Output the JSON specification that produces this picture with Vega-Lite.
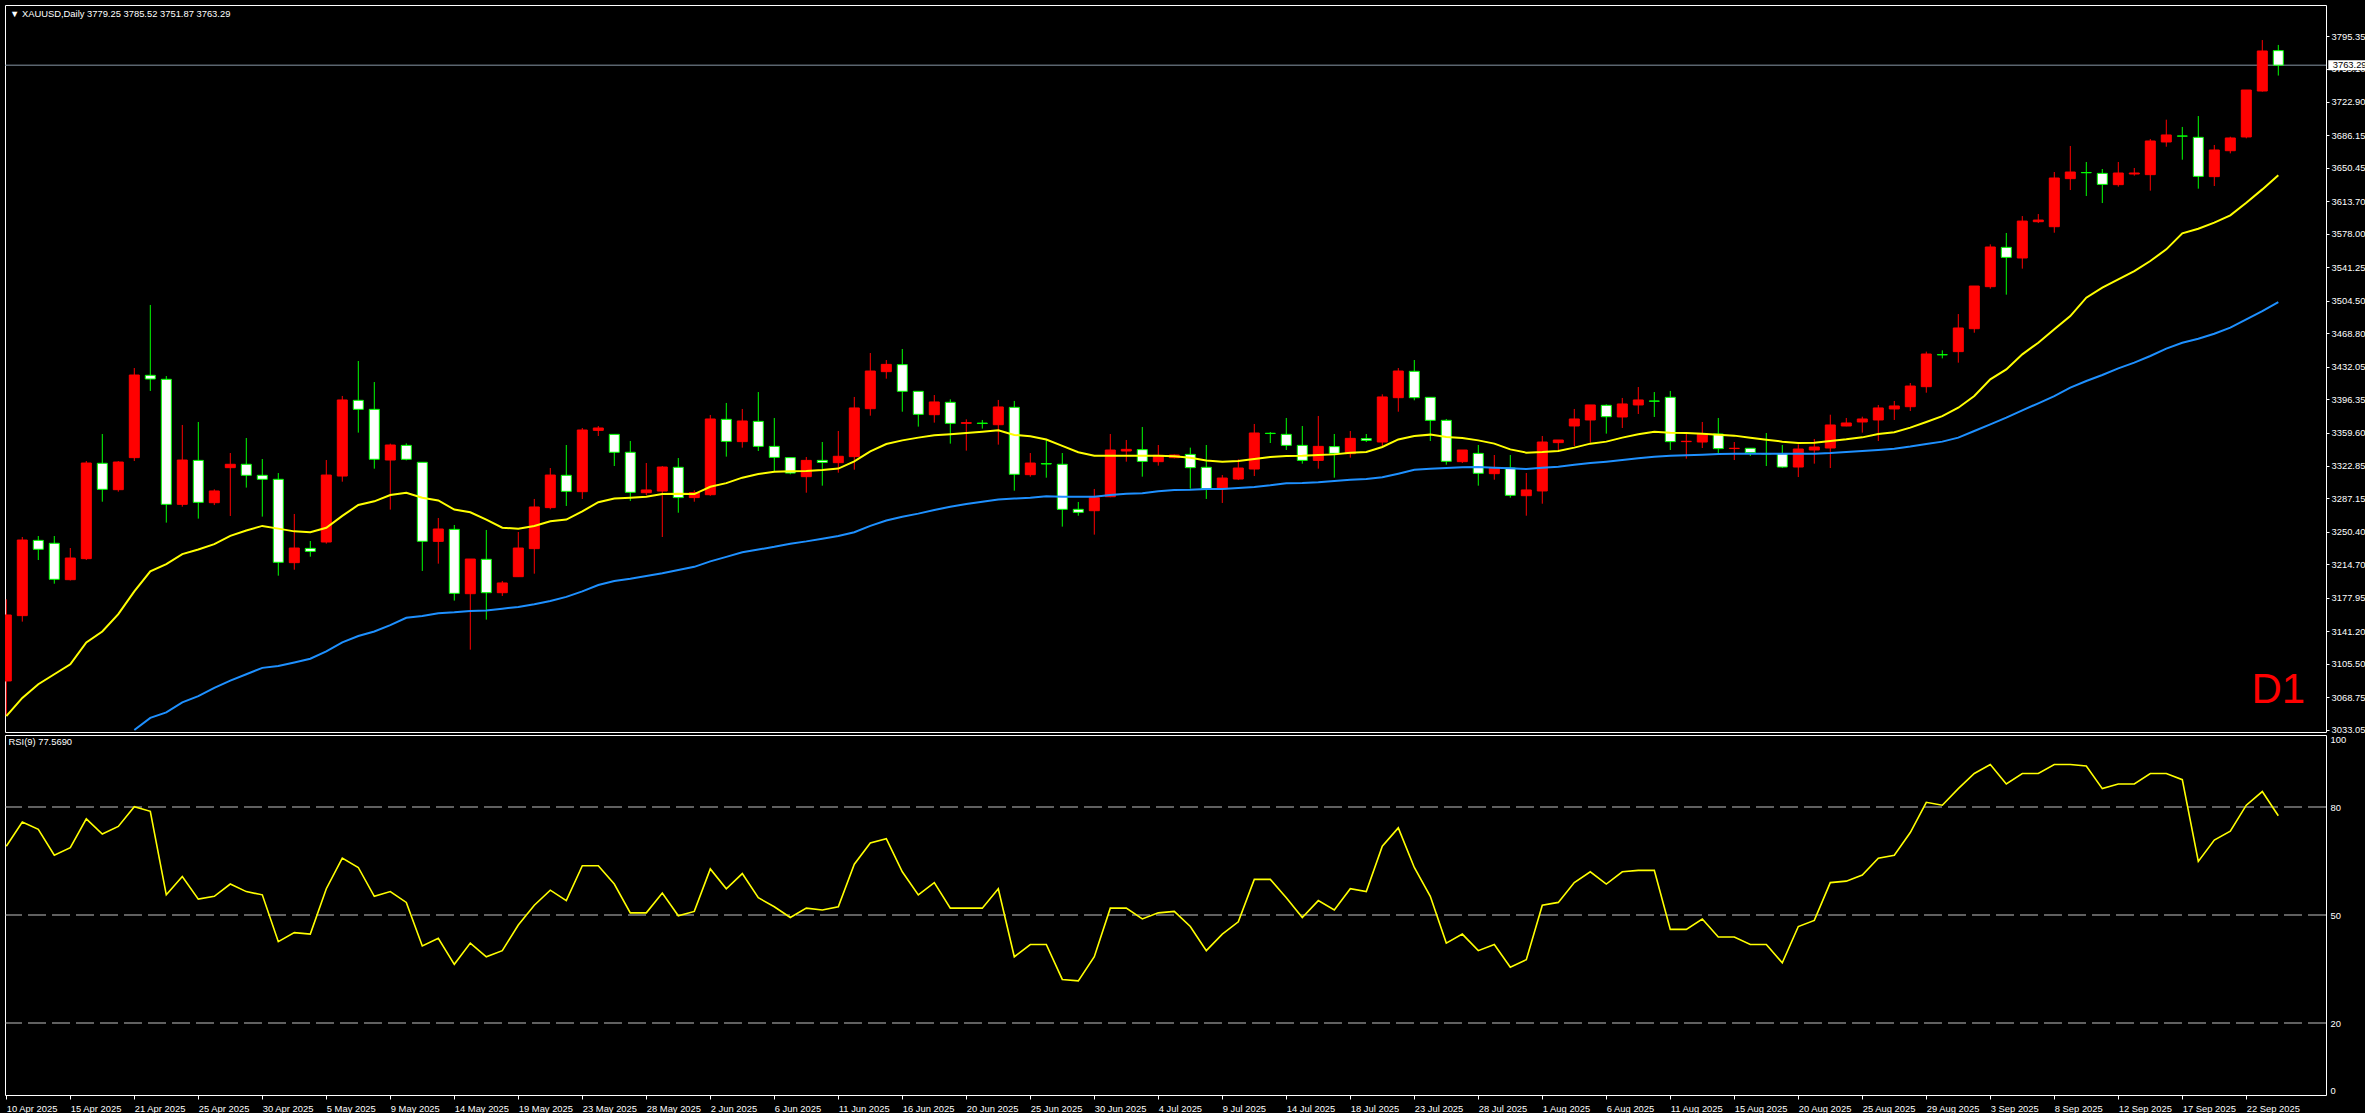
{
"$schema": "https://vega.github.io/schema/vega-lite/v6.json",
"background": "#000000",
"padding": {"left": 4, "top": 4, "right": 0, "bottom": 0},
"bounds": "flush",
"spacing": 3,
"config": {
  "view": {"stroke": "#ffffff", "strokeWidth": 1, "fill": "#000000"},
  "axis": {"labelColor": "#ffffff", "tickColor": "#ffffff", "labelFont": "Liberation Sans", "labelFontSize": 9.4, "domain": false, "grid": false, "labelOverlap": false, "labelBound": false, "labelFlush": false}
},
"data": {"values": [
{"date":"2025-04-10","open":3086.6,"high":3176.3,"low":3048.1,"close":3159.1,"maFast":3048,"maSlow":null,"rsi":69.1},
{"date":"2025-04-11","open":3158.4,"high":3244.8,"low":3151.8,"close":3241.5,"maFast":3068,"maSlow":null,"rsi":75.8},
{"date":"2025-04-13","open":3241.1,"high":3245.9,"low":3219.5,"close":3231.3,"maFast":3083,"maSlow":null,"rsi":73.8},
{"date":"2025-04-14","open":3237.9,"high":3245.9,"low":3193.5,"close":3198.3,"maFast":3094,"maSlow":null,"rsi":66.6},
{"date":"2025-04-15","open":3197.9,"high":3232.7,"low":3197.0,"close":3221.7,"maFast":3105,"maSlow":null,"rsi":68.7},
{"date":"2025-04-16","open":3221.0,"high":3328.3,"low":3219.5,"close":3326.1,"maFast":3129,"maSlow":null,"rsi":76.7},
{"date":"2025-04-17","open":3325.8,"high":3358.0,"low":3283.6,"close":3297.2,"maFast":3141,"maSlow":null,"rsi":72.5},
{"date":"2025-04-20","open":3296.8,"high":3328.3,"low":3294.6,"close":3327.2,"maFast":3160,"maSlow":null,"rsi":74.6},
{"date":"2025-04-21","open":3332.0,"high":3430.5,"low":3328.3,"close":3422.8,"maFast":3185,"maSlow":3032.7,"rsi":80.1},
{"date":"2025-04-22","open":3422.5,"high":3499.8,"low":3405.3,"close":3418.4,"maFast":3207,"maSlow":3046,"rsi":78.8},
{"date":"2025-04-23","open":3418.1,"high":3421.7,"low":3260.6,"close":3280.7,"maFast":3215,"maSlow":3052,"rsi":55.6},
{"date":"2025-04-24","open":3280.7,"high":3367.9,"low":3278.1,"close":3329.4,"maFast":3226,"maSlow":3063,"rsi":60.7},
{"date":"2025-04-25","open":3329.0,"high":3371.2,"low":3265.0,"close":3282.9,"maFast":3231,"maSlow":3070,"rsi":54.4},
{"date":"2025-04-27","open":3282.5,"high":3297.2,"low":3279.9,"close":3295.4,"maFast":3237,"maSlow":3079,"rsi":55.2},
{"date":"2025-04-28","open":3321.0,"high":3337.1,"low":3267.9,"close":3324.7,"maFast":3246,"maSlow":3087,"rsi":58.6},
{"date":"2025-04-29","open":3324.7,"high":3353.6,"low":3299.1,"close":3312.6,"maFast":3252,"maSlow":3094,"rsi":56.5},
{"date":"2025-04-30","open":3312.6,"high":3330.5,"low":3267.2,"close":3308.2,"maFast":3257,"maSlow":3101,"rsi":55.6},
{"date":"2025-05-01","open":3308.2,"high":3315.1,"low":3202.3,"close":3217.0,"maFast":3254,"maSlow":3103,"rsi":42.6},
{"date":"2025-05-02","open":3216.6,"high":3270.1,"low":3208.9,"close":3232.7,"maFast":3251,"maSlow":3107,"rsi":45.1},
{"date":"2025-05-04","open":3232.3,"high":3240.4,"low":3223.2,"close":3229.0,"maFast":3250,"maSlow":3111,"rsi":44.7},
{"date":"2025-05-05","open":3239.3,"high":3329.4,"low":3237.5,"close":3312.9,"maFast":3255,"maSlow":3119,"rsi":57.3},
{"date":"2025-05-06","open":3311.8,"high":3399.8,"low":3305.6,"close":3395.4,"maFast":3268,"maSlow":3129,"rsi":65.8},
{"date":"2025-05-07","open":3395.0,"high":3438.2,"low":3359.5,"close":3385.1,"maFast":3280,"maSlow":3136,"rsi":63.2},
{"date":"2025-05-08","open":3385.1,"high":3415.1,"low":3319.9,"close":3330.2,"maFast":3284,"maSlow":3141,"rsi":55.2},
{"date":"2025-05-09","open":3329.4,"high":3347.4,"low":3274.9,"close":3345.9,"maFast":3291,"maSlow":3148,"rsi":56.5},
{"date":"2025-05-11","open":3345.5,"high":3347.7,"low":3329.0,"close":3330.2,"maFast":3293.5,"maSlow":3156,"rsi":53.5},
{"date":"2025-05-12","open":3326.9,"high":3327.0,"low":3207.5,"close":3240.1,"maFast":3288,"maSlow":3158,"rsi":41.4},
{"date":"2025-05-13","open":3240.0,"high":3265.7,"low":3215.5,"close":3253.6,"maFast":3285,"maSlow":3161,"rsi":43.5},
{"date":"2025-05-14","open":3253.2,"high":3258.0,"low":3174.9,"close":3182.9,"maFast":3275,"maSlow":3162,"rsi":36.3},
{"date":"2025-05-15","open":3182.5,"high":3220.6,"low":3121.0,"close":3220.6,"maFast":3272,"maSlow":3163.5,"rsi":42.2},
{"date":"2025-05-16","open":3220.3,"high":3252.5,"low":3154.0,"close":3183.6,"maFast":3264,"maSlow":3164,"rsi":38.4},
{"date":"2025-05-18","open":3183.6,"high":3196.5,"low":3180.0,"close":3194.3,"maFast":3255,"maSlow":3166,"rsi":40.1},
{"date":"2025-05-19","open":3201.2,"high":3250.3,"low":3201.0,"close":3232.7,"maFast":3254,"maSlow":3168,"rsi":47.2},
{"date":"2025-05-20","open":3232.0,"high":3286.6,"low":3204.5,"close":3277.8,"maFast":3257,"maSlow":3171,"rsi":52.7},
{"date":"2025-05-21","open":3277.1,"high":3320.6,"low":3275.2,"close":3312.9,"maFast":3262,"maSlow":3174.5,"rsi":56.9},
{"date":"2025-05-22","open":3312.6,"high":3345.9,"low":3278.9,"close":3295.0,"maFast":3264,"maSlow":3179,"rsi":54.0},
{"date":"2025-05-23","open":3294.6,"high":3364.6,"low":3286.6,"close":3362.4,"maFast":3273,"maSlow":3185,"rsi":63.7},
{"date":"2025-05-25","open":3362.0,"high":3366.8,"low":3355.8,"close":3364.6,"maFast":3283,"maSlow":3192,"rsi":63.7},
{"date":"2025-05-26","open":3357.6,"high":3357.6,"low":3322.8,"close":3337.9,"maFast":3287,"maSlow":3196.5,"rsi":58.6},
{"date":"2025-05-27","open":3337.9,"high":3350.3,"low":3284.4,"close":3293.9,"maFast":3288,"maSlow":3199,"rsi":50.6},
{"date":"2025-05-28","open":3293.5,"high":3326.1,"low":3290.9,"close":3296.5,"maFast":3289,"maSlow":3202,"rsi":50.6},
{"date":"2025-05-29","open":3295.3,"high":3322.8,"low":3244.8,"close":3321.7,"maFast":3292,"maSlow":3205,"rsi":56.1},
{"date":"2025-05-30","open":3321.4,"high":3331.6,"low":3271.5,"close":3288.1,"maFast":3292.4,"maSlow":3208.5,"rsi":49.8},
{"date":"2025-06-01","open":3288.1,"high":3296.1,"low":3283.6,"close":3293.5,"maFast":3292,"maSlow":3212,"rsi":51.0},
{"date":"2025-06-02","open":3291.3,"high":3378.9,"low":3290.0,"close":3374.5,"maFast":3300,"maSlow":3218,"rsi":62.8},
{"date":"2025-06-03","open":3374.1,"high":3392.1,"low":3333.1,"close":3349.9,"maFast":3304,"maSlow":3223,"rsi":57.3},
{"date":"2025-06-04","open":3349.6,"high":3385.5,"low":3343.0,"close":3372.3,"maFast":3310,"maSlow":3228,"rsi":61.5},
{"date":"2025-06-05","open":3371.9,"high":3404.1,"low":3339.3,"close":3344.4,"maFast":3314,"maSlow":3231,"rsi":54.8},
{"date":"2025-06-06","open":3344.4,"high":3375.6,"low":3316.6,"close":3332.3,"maFast":3316.5,"maSlow":3234,"rsi":52.3},
{"date":"2025-06-08","open":3332.0,"high":3332.0,"low":3313.7,"close":3315.1,"maFast":3317,"maSlow":3237.5,"rsi":49.3},
{"date":"2025-06-09","open":3311.1,"high":3332.7,"low":3293.5,"close":3329.0,"maFast":3317.3,"maSlow":3240,"rsi":51.9},
{"date":"2025-06-10","open":3329.0,"high":3349.2,"low":3301.2,"close":3326.8,"maFast":3318.4,"maSlow":3243,"rsi":51.4},
{"date":"2025-06-11","open":3326.5,"high":3361.3,"low":3315.5,"close":3333.5,"maFast":3320,"maSlow":3246,"rsi":52.3},
{"date":"2025-06-12","open":3333.1,"high":3398.7,"low":3318.8,"close":3386.6,"maFast":3328,"maSlow":3250,"rsi":64.1},
{"date":"2025-06-13","open":3385.8,"high":3447.0,"low":3378.1,"close":3427.2,"maFast":3339,"maSlow":3257,"rsi":70.0},
{"date":"2025-06-15","open":3426.5,"high":3439.3,"low":3418.8,"close":3434.5,"maFast":3347,"maSlow":3263,"rsi":71.2},
{"date":"2025-06-16","open":3434.2,"high":3451.4,"low":3382.5,"close":3404.9,"maFast":3351,"maSlow":3267,"rsi":62.0},
{"date":"2025-06-17","open":3404.9,"high":3404.9,"low":3366.1,"close":3379.6,"maFast":3354,"maSlow":3270.5,"rsi":55.6},
{"date":"2025-06-18","open":3379.2,"high":3400.8,"low":3370.5,"close":3393.2,"maFast":3356.5,"maSlow":3274.5,"rsi":59.0},
{"date":"2025-06-19","open":3392.8,"high":3396.1,"low":3347.4,"close":3369.7,"maFast":3357.6,"maSlow":3278,"rsi":51.9},
{"date":"2025-06-20","open":3369.7,"high":3374.1,"low":3339.7,"close":3370.5,"maFast":3359,"maSlow":3281,"rsi":51.9},
{"date":"2025-06-22","open":3370.0,"high":3373.4,"low":3363.9,"close":3369.5,"maFast":3360.5,"maSlow":3283.6,"rsi":51.9},
{"date":"2025-06-23","open":3368.2,"high":3395.4,"low":3346.3,"close":3387.7,"maFast":3362,"maSlow":3286,"rsi":57.3},
{"date":"2025-06-24","open":3387.3,"high":3394.3,"low":3295.7,"close":3313.7,"maFast":3357,"maSlow":3287,"rsi":38.4},
{"date":"2025-06-25","open":3313.3,"high":3337.1,"low":3311.1,"close":3326.1,"maFast":3355.4,"maSlow":3288,"rsi":41.8},
{"date":"2025-06-26","open":3325.5,"high":3351.4,"low":3310.0,"close":3325.0,"maFast":3352,"maSlow":3289.5,"rsi":41.8},
{"date":"2025-06-27","open":3324.7,"high":3337.1,"low":3256.2,"close":3275.2,"maFast":3345,"maSlow":3289,"rsi":32.1},
{"date":"2025-06-29","open":3275.2,"high":3283.3,"low":3268.2,"close":3271.9,"maFast":3338,"maSlow":3289,"rsi":31.7},
{"date":"2025-06-30","open":3273.7,"high":3297.6,"low":3247.4,"close":3288.0,"maFast":3334,"maSlow":3289,"rsi":38.4},
{"date":"2025-07-01","open":3289.1,"high":3358.0,"low":3288.5,"close":3340.4,"maFast":3334,"maSlow":3291,"rsi":51.9},
{"date":"2025-07-02","open":3339.3,"high":3351.4,"low":3327.6,"close":3341.1,"maFast":3334,"maSlow":3292.4,"rsi":51.9},
{"date":"2025-07-03","open":3340.8,"high":3365.7,"low":3311.1,"close":3327.9,"maFast":3334,"maSlow":3293,"rsi":48.9},
{"date":"2025-07-04","open":3327.6,"high":3345.9,"low":3323.2,"close":3334.5,"maFast":3334,"maSlow":3295,"rsi":50.6},
{"date":"2025-07-06","open":3332.0,"high":3335.5,"low":3331.2,"close":3334.9,"maFast":3333.5,"maSlow":3296.5,"rsi":51.0},
{"date":"2025-07-07","open":3335.6,"high":3343.0,"low":3297.9,"close":3321.0,"maFast":3332,"maSlow":3296.8,"rsi":46.8},
{"date":"2025-07-08","open":3321.4,"high":3345.9,"low":3286.6,"close":3297.9,"maFast":3329,"maSlow":3297.5,"rsi":40.1},
{"date":"2025-07-09","open":3297.9,"high":3312.9,"low":3282.2,"close":3309.6,"maFast":3327.6,"maSlow":3297.5,"rsi":44.7},
{"date":"2025-07-10","open":3308.5,"high":3330.1,"low":3307.4,"close":3320.6,"maFast":3328.3,"maSlow":3298.7,"rsi":48.1},
{"date":"2025-07-11","open":3319.5,"high":3369.0,"low":3311.8,"close":3359.1,"maFast":3330.5,"maSlow":3299.8,"rsi":59.9},
{"date":"2025-07-13","open":3358.8,"high":3360.2,"low":3348.1,"close":3358.5,"maFast":3332.7,"maSlow":3301.6,"rsi":59.9},
{"date":"2025-07-14","open":3357.6,"high":3375.6,"low":3340.4,"close":3345.5,"maFast":3333.8,"maSlow":3303.8,"rsi":54.8},
{"date":"2025-07-15","open":3345.5,"high":3366.8,"low":3325.4,"close":3329.0,"maFast":3334,"maSlow":3304.1,"rsi":49.3},
{"date":"2025-07-16","open":3329.0,"high":3377.8,"low":3319.9,"close":3344.4,"maFast":3334.9,"maSlow":3304.9,"rsi":54.0},
{"date":"2025-07-17","open":3344.1,"high":3358.0,"low":3310.0,"close":3336.7,"maFast":3335.6,"maSlow":3306.3,"rsi":51.4},
{"date":"2025-07-18","open":3336.4,"high":3361.3,"low":3332.0,"close":3353.2,"maFast":3337.5,"maSlow":3307.8,"rsi":57.3},
{"date":"2025-07-20","open":3352.9,"high":3358.0,"low":3349.2,"close":3351.0,"maFast":3338.2,"maSlow":3308.5,"rsi":56.5},
{"date":"2025-07-21","open":3349.2,"high":3401.6,"low":3344.4,"close":3398.7,"maFast":3343.7,"maSlow":3310.4,"rsi":69.1},
{"date":"2025-07-22","open":3397.9,"high":3430.5,"low":3382.5,"close":3427.2,"maFast":3352,"maSlow":3314.4,"rsi":74.2},
{"date":"2025-07-23","open":3426.9,"high":3439.3,"low":3395.0,"close":3397.9,"maFast":3355.8,"maSlow":3318.8,"rsi":63.2},
{"date":"2025-07-24","open":3398.3,"high":3398.3,"low":3350.3,"close":3373.0,"maFast":3357.3,"maSlow":3319.9,"rsi":55.2},
{"date":"2025-07-25","open":3373.0,"high":3374.5,"low":3324.3,"close":3328.0,"maFast":3354.7,"maSlow":3320.6,"rsi":42.2},
{"date":"2025-07-27","open":3327.6,"high":3340.4,"low":3326.1,"close":3340.4,"maFast":3353.6,"maSlow":3321.4,"rsi":44.7},
{"date":"2025-07-28","open":3336.7,"high":3345.9,"low":3301.2,"close":3314.8,"maFast":3351,"maSlow":3321.7,"rsi":40.1},
{"date":"2025-07-29","open":3314.4,"high":3334.9,"low":3307.8,"close":3320.6,"maFast":3347.4,"maSlow":3321,"rsi":41.8},
{"date":"2025-07-30","open":3320.6,"high":3334.9,"low":3288.0,"close":3290.6,"maFast":3341.1,"maSlow":3320.3,"rsi":35.5},
{"date":"2025-07-31","open":3290.2,"high":3315.1,"low":3268.2,"close":3296.5,"maFast":3337.5,"maSlow":3319.5,"rsi":37.6},
{"date":"2025-08-01","open":3295.4,"high":3355.8,"low":3281.4,"close":3349.2,"maFast":3338.2,"maSlow":3321,"rsi":52.7},
{"date":"2025-08-03","open":3348.5,"high":3351.4,"low":3339.3,"close":3351.4,"maFast":3339.3,"maSlow":3322.1,"rsi":53.5},
{"date":"2025-08-04","open":3366.8,"high":3385.5,"low":3344.8,"close":3374.5,"maFast":3343,"maSlow":3324.3,"rsi":59.0},
{"date":"2025-08-05","open":3373.4,"high":3389.9,"low":3348.5,"close":3389.9,"maFast":3347.4,"maSlow":3326.1,"rsi":62.0},
{"date":"2025-08-06","open":3389.5,"high":3390.6,"low":3358.4,"close":3377.0,"maFast":3349.6,"maSlow":3327.6,"rsi":58.6},
{"date":"2025-08-07","open":3376.7,"high":3397.6,"low":3364.6,"close":3391.0,"maFast":3354,"maSlow":3329.4,"rsi":62.0},
{"date":"2025-08-08","open":3389.9,"high":3409.6,"low":3380.0,"close":3395.4,"maFast":3357.6,"maSlow":3331.3,"rsi":62.4},
{"date":"2025-08-10","open":3394.3,"high":3404.1,"low":3376.7,"close":3394.0,"maFast":3360.5,"maSlow":3333.1,"rsi":62.4},
{"date":"2025-08-11","open":3398.3,"high":3405.3,"low":3340.4,"close":3349.6,"maFast":3359.5,"maSlow":3334.2,"rsi":46.0},
{"date":"2025-08-12","open":3349.6,"high":3358.0,"low":3330.9,"close":3350.0,"maFast":3359,"maSlow":3334.6,"rsi":46.0},
{"date":"2025-08-13","open":3349.2,"high":3371.2,"low":3342.6,"close":3358.4,"maFast":3358.4,"maSlow":3335.3,"rsi":48.9},
{"date":"2025-08-14","open":3358.0,"high":3375.6,"low":3335.6,"close":3341.9,"maFast":3357.3,"maSlow":3336.0,"rsi":43.9},
{"date":"2025-08-15","open":3342.0,"high":3349.2,"low":3329.4,"close":3342.3,"maFast":3356.2,"maSlow":3336.4,"rsi":43.9},
{"date":"2025-08-17","open":3342.3,"high":3342.3,"low":3333.8,"close":3337.5,"maFast":3354,"maSlow":3336.4,"rsi":41.8},
{"date":"2025-08-18","open":3336.4,"high":3359.1,"low":3322.8,"close":3336.2,"maFast":3351.8,"maSlow":3336.4,"rsi":41.8},
{"date":"2025-08-19","open":3336.4,"high":3345.9,"low":3320.6,"close":3321.7,"maFast":3349.6,"maSlow":3336.4,"rsi":36.7},
{"date":"2025-08-20","open":3321.7,"high":3346.6,"low":3310.7,"close":3341.5,"maFast":3348.1,"maSlow":3336.4,"rsi":46.8},
{"date":"2025-08-21","open":3340.4,"high":3352.5,"low":3325.4,"close":3343.7,"maFast":3348.5,"maSlow":3336.4,"rsi":48.5},
{"date":"2025-08-22","open":3342.6,"high":3379.2,"low":3320.6,"close":3367.9,"maFast":3350.3,"maSlow":3337.1,"rsi":59.0},
{"date":"2025-08-24","open":3366.8,"high":3375.6,"low":3366.5,"close":3370.1,"maFast":3352.1,"maSlow":3338.2,"rsi":59.4},
{"date":"2025-08-25","open":3371.2,"high":3377.0,"low":3359.5,"close":3374.5,"maFast":3354.3,"maSlow":3339.3,"rsi":61.1},
{"date":"2025-08-26","open":3373.4,"high":3389.9,"low":3350.3,"close":3386.6,"maFast":3358,"maSlow":3340.4,"rsi":65.8},
{"date":"2025-08-27","open":3385.5,"high":3394.3,"low":3373.4,"close":3388.8,"maFast":3360,"maSlow":3341.8,"rsi":66.6},
{"date":"2025-08-28","open":3388.0,"high":3414.0,"low":3383.3,"close":3410.7,"maFast":3365,"maSlow":3344.2,"rsi":72.9},
{"date":"2025-08-29","open":3410.0,"high":3448.5,"low":3403.4,"close":3445.9,"maFast":3371.2,"maSlow":3347,"rsi":81.3},
{"date":"2025-08-31","open":3445.2,"high":3449.9,"low":3441.1,"close":3445.0,"maFast":3377.7,"maSlow":3349.6,"rsi":80.5},
{"date":"2025-09-01","open":3448.5,"high":3489.8,"low":3436.4,"close":3474.5,"maFast":3386.9,"maSlow":3354,"rsi":85.1},
{"date":"2025-09-02","open":3473.7,"high":3520.6,"low":3469.3,"close":3520.6,"maFast":3399.7,"maSlow":3361.3,"rsi":89.3},
{"date":"2025-09-03","open":3519.9,"high":3566.4,"low":3517.7,"close":3563.5,"maFast":3418,"maSlow":3368.6,"rsi":91.8},
{"date":"2025-09-04","open":3563.1,"high":3578.9,"low":3511.1,"close":3552.1,"maFast":3429,"maSlow":3375.9,"rsi":86.4},
{"date":"2025-09-05","open":3551.4,"high":3597.5,"low":3539.7,"close":3592.0,"maFast":3445.5,"maSlow":3384,"rsi":89.3},
{"date":"2025-09-07","open":3591.3,"high":3599.7,"low":3589.8,"close":3593.1,"maFast":3458.3,"maSlow":3391.7,"rsi":89.3},
{"date":"2025-09-08","open":3585.8,"high":3645.9,"low":3579.2,"close":3639.3,"maFast":3473,"maSlow":3399.7,"rsi":91.8},
{"date":"2025-09-09","open":3638.6,"high":3674.5,"low":3626.1,"close":3645.9,"maFast":3487.6,"maSlow":3408.9,"rsi":91.8},
{"date":"2025-09-10","open":3645.3,"high":3656.9,"low":3619.5,"close":3645.1,"maFast":3507.8,"maSlow":3416.2,"rsi":91.4},
{"date":"2025-09-11","open":3644.4,"high":3649.2,"low":3611.8,"close":3632.3,"maFast":3518.8,"maSlow":3422.8,"rsi":85.1},
{"date":"2025-09-12","open":3632.0,"high":3656.9,"low":3629.8,"close":3644.8,"maFast":3527.9,"maSlow":3430.1,"rsi":86.4},
{"date":"2025-09-14","open":3643.7,"high":3650.3,"low":3641.9,"close":3644.8,"maFast":3537.1,"maSlow":3436.4,"rsi":86.4},
{"date":"2025-09-15","open":3643.0,"high":3682.2,"low":3625.4,"close":3680.0,"maFast":3548.1,"maSlow":3443.7,"rsi":89.3},
{"date":"2025-09-16","open":3678.9,"high":3703.4,"low":3673.7,"close":3686.6,"maFast":3560.9,"maSlow":3451.8,"rsi":89.3},
{"date":"2025-09-17","open":3685.5,"high":3695.4,"low":3659.4,"close":3685.3,"maFast":3578.5,"maSlow":3458.3,"rsi":87.6},
{"date":"2025-09-18","open":3684.0,"high":3707.4,"low":3627.6,"close":3641.1,"maFast":3583.6,"maSlow":3462.7,"rsi":64.9},
{"date":"2025-09-19","open":3640.8,"high":3675.6,"low":3630.5,"close":3670.1,"maFast":3590.2,"maSlow":3468.2,"rsi":70.8},
{"date":"2025-09-21","open":3669.3,"high":3684.7,"low":3666.4,"close":3683.3,"maFast":3598.3,"maSlow":3474.8,"rsi":73.3},
{"date":"2025-09-22","open":3684.4,"high":3736.0,"low":3682.9,"close":3736.0,"maFast":3612.2,"maSlow":3484.0,"rsi":80.5},
{"date":"2025-09-23","open":3734.9,"high":3790.9,"low":3734.2,"close":3778.9,"maFast":3626.8,"maSlow":3493.1,"rsi":84.3},
{"date":"2025-09-24","open":3779.25,"high":3785.52,"low":3751.87,"close":3763.29,"maFast":3642.2,"maSlow":3503.0,"rsi":77.569}
]},
"vconcat": [
{
  "width": 2321,
  "height": 727,
  "layer": [
    {
      "transform": [{"filter": "datum.date == '2025-09-24'"}],
      "mark": {"type": "rule", "color": "#8796a5", "strokeWidth": 1},
      "encoding": {
        "y": {"field": "close", "type": "quantitative", "scale": {"domain": [3030.52, 3829.42], "nice": false, "zero": false}, "axis": {"orient": "right", "title": null, "values": [3795.35, 3759.10, 3722.90, 3686.15, 3650.45, 3613.70, 3578.00, 3541.25, 3504.50, 3468.80, 3432.05, 3396.35, 3359.60, 3322.85, 3287.15, 3250.40, 3214.70, 3177.95, 3141.20, 3105.50, 3068.75, 3033.05], "tickCount": 60, "format": ".2f", "tickSize": 3, "labelPadding": 2, "labelOverlap": false, "labelFlush": false, "labelBaseline": "middle"}}
      }
    },
    {
      "mark": {"type": "rule", "strokeWidth": 1, "clip": true},
      "encoding": {
        "x": {"field": "date", "type": "ordinal", "sort": null, "scale": {"type": "point", "range": [1.3, 2273.3], "padding": 0}, "axis": null},
        "y": {"field": "low", "type": "quantitative", "title": null},
        "y2": {"field": "high"},
        "stroke": {"condition": {"test": "datum.close >= datum.open", "value": "#ff0000"}, "value": "#00ff00"}
      }
    },
    {
      "mark": {"type": "bar", "width": 10, "strokeWidth": 1, "clip": true},
      "encoding": {
        "x": {"field": "date", "type": "ordinal", "sort": null},
        "y": {"field": "open", "type": "quantitative", "title": null},
        "y2": {"field": "close"},
        "fill": {"condition": {"test": "datum.close >= datum.open", "value": "#ff0000"}, "value": "#ffffff"},
        "stroke": {"condition": {"test": "datum.close >= datum.open", "value": "#ff0000"}, "value": "#00ff00"}
      }
    },
    {
      "mark": {"type": "line", "color": "#ffff00", "strokeWidth": 2, "clip": true},
      "encoding": {
        "x": {"field": "date", "type": "ordinal", "sort": null},
        "y": {"field": "maFast", "type": "quantitative", "title": null}
      }
    },
    {
      "mark": {"type": "line", "color": "#1e90ff", "strokeWidth": 2, "clip": true},
      "encoding": {
        "x": {"field": "date", "type": "ordinal", "sort": null},
        "y": {"field": "maSlow", "type": "quantitative", "title": null}
      }
    },
    {
      "transform": [{"filter": "datum.date == '2025-09-24'"}],
      "mark": {"type": "text", "text": "D1", "font": "Liberation Sans", "fontSize": 42, "color": "#ff0000", "align": "center", "baseline": "alphabetic"},
      "encoding": {
        "x": {"field": "date", "type": "ordinal", "sort": null},
        "y": {"datum": 3062.5, "type": "quantitative"}
      }
    },
    {
      "transform": [{"filter": "datum.date == '2025-04-10'"}],
      "mark": {"type": "text", "text": "\u25bc XAUUSD,Daily  3779.25 3785.52 3751.87 3763.29", "font": "Liberation Sans", "fontSize": 9.4, "color": "#ffffff", "align": "left", "baseline": "middle", "dx": 3.7, "dy": 8.5},
      "encoding": {
        "x": {"field": "date", "type": "ordinal", "sort": null},
        "y": {"datum": 3829.42, "type": "quantitative"}
      }
    },
    {
      "transform": [{"filter": "datum.date == '2025-09-24'"}],
      "mark": {"type": "point", "shape": "M-1,-0.27L1,-0.27L1,0.27L-1,0.27Z", "size": 1369, "filled": true, "color": "#ffffff", "opacity": 1, "strokeWidth": 0, "xOffset": 68.5},
      "encoding": {
        "x": {"field": "date", "type": "ordinal", "sort": null},
        "y": {"field": "close", "type": "quantitative", "title": null}
      }
    },
    {
      "transform": [{"filter": "datum.date == '2025-09-24'"}],
      "mark": {"type": "text", "align": "left", "baseline": "middle", "dx": 54.4, "font": "Liberation Sans", "fontSize": 9.4, "color": "#000000"},
      "encoding": {
        "x": {"field": "date", "type": "ordinal", "sort": null},
        "y": {"field": "close", "type": "quantitative", "title": null},
        "text": {"field": "close", "type": "quantitative", "format": ".2f"}
      }
    }
  ]
},
{
  "width": 2321,
  "height": 360,
  "layer": [
    {
      "data": {"values": [{"level": 20}, {"level": 50}, {"level": 80}]},
      "mark": {"type": "rule", "color": "#c0c0c0", "strokeWidth": 1, "strokeDash": [18, 6]},
      "encoding": {
        "y": {"field": "level", "type": "quantitative", "scale": {"domain": [0, 100], "nice": false, "zero": false}, "axis": {"orient": "right", "title": null, "values": [0, 20, 50, 80, 100], "tickCount": 20, "ticks": false, "labelPadding": 4, "labelFlush": true, "labelOverlap": false}}
      }
    },
    {
      "mark": {"type": "line", "color": "#ffff00", "strokeWidth": 1.6, "clip": true},
      "encoding": {
        "x": {"field": "date", "type": "ordinal", "sort": null, "scale": {"type": "point", "range": [1.3, 2273.3], "padding": 0}, "axis": {"orient": "bottom", "title": null, "values": ["2025-04-10","2025-04-15","2025-04-21","2025-04-25","2025-04-30","2025-05-05","2025-05-09","2025-05-14","2025-05-19","2025-05-23","2025-05-28","2025-06-02","2025-06-06","2025-06-11","2025-06-16","2025-06-20","2025-06-25","2025-06-30","2025-07-04","2025-07-09","2025-07-14","2025-07-18","2025-07-23","2025-07-28","2025-08-01","2025-08-06","2025-08-11","2025-08-15","2025-08-20","2025-08-25","2025-08-29","2025-09-03","2025-09-08","2025-09-12","2025-09-17","2025-09-22"], "labelExpr": "utcFormat(toDate(datum.value), '%-d %b %Y')", "labelAlign": "left", "labelAngle": 0, "labelBaseline": "top", "tickSize": 4, "labelPadding": 5, "labelOverlap": false, "labelFlush": false, "labelBound": false}},
        "y": {"field": "rsi", "type": "quantitative", "title": null}
      }
    },
    {
      "transform": [{"filter": "datum.date == '2025-04-10'"}],
      "mark": {"type": "text", "text": "RSI(9) 77.5690", "font": "Liberation Sans", "fontSize": 9.4, "color": "#ffffff", "align": "left", "baseline": "middle", "dx": 2.2, "dy": 6.5},
      "encoding": {
        "x": {"field": "date", "type": "ordinal", "sort": null},
        "y": {"datum": 100, "type": "quantitative"}
      }
    }
  ]
}
]
}
